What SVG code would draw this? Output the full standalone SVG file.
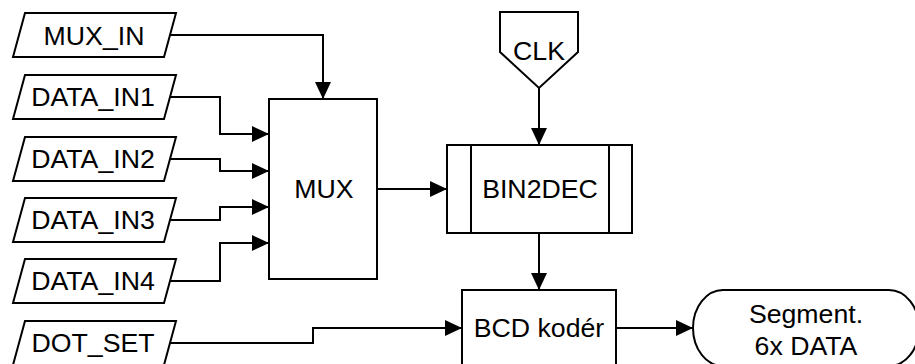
<svg xmlns="http://www.w3.org/2000/svg" width="915" height="364" viewBox="0 0 915 364">
<style>
.s{fill:#fff;stroke:#000;stroke-width:2}
.t{font-family:"Liberation Sans",Arial,sans-serif;font-size:26.7px;fill:#000;text-anchor:middle}
.c{fill:none;stroke:#000;stroke-width:2}
</style>
<defs>
<marker id="a" markerUnits="userSpaceOnUse" markerWidth="17" markerHeight="16" refX="17" refY="8" orient="auto">
<path d="M0,0 L17,8 L0,16 Z" fill="#000"/>
</marker>
</defs>
<rect width="915" height="364" fill="#fff"/>
<g id="connectors">
<path class="c" d="M170,35 H323 V99" marker-end="url(#a)"/>
<path class="c" d="M170,97 H220 V134 H269" marker-end="url(#a)"/>
<path class="c" d="M170,159 H220 V171 H269" marker-end="url(#a)"/>
<path class="c" d="M170,220 H220 V207 H269" marker-end="url(#a)"/>
<path class="c" d="M170,281 H220 V243 H269" marker-end="url(#a)"/>
<path class="c" d="M170,343 H313 V328 H462" marker-end="url(#a)"/>
<path class="c" d="M377,189 H447" marker-end="url(#a)"/>
<path class="c" d="M539,88 V145" marker-end="url(#a)"/>
<path class="c" d="M539,233 V290" marker-end="url(#a)"/>
<path class="c" d="M616,328 H693" marker-end="url(#a)"/>
</g>
<g id="mux_in"><polygon class="s" points="25,13 176,13 164,57 13,57"/><text class="t" x="94" y="45">MUX_IN</text></g>
<g id="data_in1"><polygon class="s" points="25,75 176,75 164,119 13,119"/><text class="t" x="93" y="106">DATA_IN1</text></g>
<g id="data_in2"><polygon class="s" points="25,137 176,137 164,181 13,181"/><text class="t" x="93" y="168">DATA_IN2</text></g>
<g id="data_in3"><polygon class="s" points="25,198 176,198 164,242 13,242"/><text class="t" x="93" y="229">DATA_IN3</text></g>
<g id="data_in4"><polygon class="s" points="25,259 176,259 164,303 13,303"/><text class="t" x="93" y="290">DATA_IN4</text></g>
<g id="dot_set"><polygon class="s" points="25,321 176,321 164,365 13,365"/><text class="t" x="93" y="352">DOT_SET</text></g>
<g id="mux"><rect class="s" x="269" y="99" width="108" height="180"/><text class="t" x="324" y="198">MUX</text></g>
<g id="clk"><polygon class="s" points="500,12 578,12 578,52 539,88 500,52"/><text class="t" x="539" y="60">CLK</text></g>
<g id="bin2dec"><rect class="s" x="447" y="145" width="185" height="88"/><line class="c" x1="471" y1="145" x2="471" y2="233"/><line class="c" x1="609" y1="145" x2="609" y2="233"/><text class="t" x="540" y="198">BIN2DEC</text></g>
<g id="bcd"><rect class="s" x="462" y="290" width="154" height="78"/><text class="t" x="539" y="337">BCD kodér</text></g>
<g id="segment"><path class="s" d="M723,290 H889 A30,38 0 0 1 889,366 H723 A30,38 0 0 1 723,290 Z"/><text class="t" x="806" y="323">Segment.</text><text class="t" x="806" y="355">6x DATA</text></g>
</svg>
